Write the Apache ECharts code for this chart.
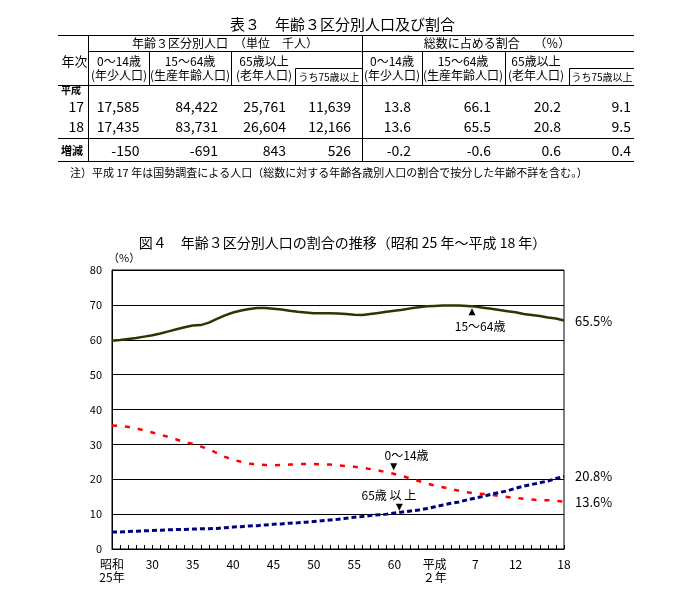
<!DOCTYPE html>
<html><head><meta charset="utf-8">
<script src="https://cdn.jsdelivr.net/npm/echarts@6/dist/echarts.min.js"></script>
<style>html,body{margin:0;padding:0;background:#fff}#c{width:685px;height:599px}</style>
</head><body><div id="c"></div>
<script>
// ---------- chart data ----------
const years = [1950,1951,1952,1953,1954,1955,1956,1957,1958,1959,1960,1961,1962,1963,1964,1965,1966,1967,1968,1969,1970,1971,1972,1973,1974,1975,1976,1977,1978,1979,1980,1981,1982,1983,1984,1985,1986,1987,1988,1989,1990,1991,1992,1993,1994,1995,1996,1997,1998,1999,2000,2001,2002,2003,2004,2005,2006];
const share0to14 = [35.4,35.3,35.0,34.6,34.0,33.4,32.8,32.1,31.4,30.6,30.2,29.4,28.6,27.5,26.4,25.6,25.0,24.5,24.2,24.1,24.0,24.1,24.2,24.3,24.4,24.4,24.3,24.2,24.0,23.8,23.6,23.3,22.9,22.5,22.0,21.5,20.9,20.2,19.5,18.8,18.2,17.7,17.2,16.7,16.3,15.9,15.8,15.5,15.2,14.9,14.6,14.4,14.2,14.0,14.0,13.8,13.6];
const share15to64 = [59.7,59.9,60.2,60.5,60.9,61.3,61.8,62.4,63.0,63.6,64.1,64.2,64.9,66.0,67.0,67.8,68.4,68.8,69.1,69.1,68.9,68.7,68.3,68.0,67.8,67.6,67.6,67.6,67.5,67.4,67.2,67.1,67.4,67.7,68.0,68.3,68.6,69.0,69.3,69.6,69.7,69.8,69.8,69.8,69.7,69.5,69.2,68.9,68.5,68.2,67.9,67.4,67.1,66.8,66.4,66.1,65.5];
const share65over = [4.9,4.9,5.0,5.1,5.2,5.3,5.4,5.5,5.6,5.6,5.7,5.8,5.8,5.9,6.1,6.3,6.4,6.6,6.7,6.9,7.1,7.2,7.4,7.5,7.7,7.9,8.1,8.3,8.5,8.8,9.1,9.3,9.6,9.8,10.0,10.3,10.6,10.9,11.2,11.6,12.1,12.6,13.1,13.5,14.1,14.6,15.1,15.7,16.2,16.7,17.4,18.0,18.5,19.0,19.5,20.2,20.8];
const xLabelYears = [1950,1955,1960,1965,1970,1975,1980,1985,1990,1995,2000,2006];
const xLabelTexts = ['昭和\n25年','30','35','40','45','50','55','60','平成\n２年','7','12','18'];
const yTicks = [0,10,20,30,40,50,60,70,80];

// ---------- table data ----------
const tableRowYears = ['17','18'];
const popYoung = [17585,17435];
const popWork = [84422,83731];
const popOld = [25761,26604];
const popOld75 = [11639,12166];
const pctYoung = [13.8,13.6];
const pctWork = [66.1,65.5];
const pctOld = [20.2,20.8];
const pctOld75 = [9.1,9.5];
const popDiff = [-150,-691,843,526];
const pctDiff = [-0.2,-0.6,0.6,0.4];

const FF = '"Noto Sans CJK JP","Noto Sans CJK SC",sans-serif';
const g = [];
function ln(x1,y1,x2,y2){g.push({type:'line',silent:true,shape:{x1,y1,x2,y2},style:{stroke:'#000',lineWidth:1}});}
function tx(x,y,t,size,align,weight){g.push({type:'text',silent:true,x,y,style:{text:t,fill:'#000',font:(weight||'normal')+' '+size+'px '+FF,textAlign:align||'center',textVerticalAlign:'middle'}});}

// table frame
const L=58,R=634,C0=88.5,CS=362.5;
[35.5,85.5,138.5,161.5].forEach(y=>ln(L,y,R,y));
ln(C0,51.5,R,51.5);
ln(C0,35.5,C0,161.5); ln(CS,35.5,CS,161.5);
[149.5,231.5,422.5,505.5].forEach(x=>ln(x,51.5,x,85.5));
ln(295.5,68.5,295.5,85.5); ln(295.5,68.5,CS,68.5);
ln(569.5,68.5,569.5,85.5); ln(569.5,68.5,R,68.5);

// headers
tx(225,43,'年齢３区分別人口　（単位　千人）',12);
tx(497,43,'総数に占める割合　 （％）',12);
tx(74.5,61,'年次',13);
const hdrCenters=[119,190,264,392,463,536];
const hdr1=['0～14歳','15～64歳','65歳以上','0～14歳','15～64歳','65歳以上'];
const hdr2=['(年少人口)','(生産年齢人口)','(老年人口)','(年少人口)','(生産年齢人口)','(老年人口)'];
hdrCenters.forEach((x,i)=>{tx(x,61,hdr1[i],12);tx(x,75,hdr2[i],12);});
tx(329,77,'うち75歳以上',10); tx(602,77,'うち75歳以上',10);

// body
tx(61,90,'平成',10,'left','bold');
const rEdges=[139.5,218,286,351,411,491,561,631];
const rowYs=[107,126.5];
const fmtN=n=>n.toLocaleString('en-US');
tableRowYears.forEach((yr,i)=>{
  const y=rowYs[i];
  tx(84,y,yr,14,'right');
  const vals=[fmtN(popYoung[i]),fmtN(popWork[i]),fmtN(popOld[i]),fmtN(popOld75[i]),pctYoung[i].toFixed(1),pctWork[i].toFixed(1),pctOld[i].toFixed(1),pctOld75[i].toFixed(1)];
  vals.forEach((v,j)=>tx(rEdges[j],y,v,14,'right'));
});
tx(61,151,'増減',11,'left','bold');
const diffs=popDiff.map(v=>String(v)).concat(pctDiff.map(v=>v.toFixed(1)));
diffs.forEach((v,j)=>tx(rEdges[j],151,v,14,'right'));
tx(70,173,'注）平成 17 年は国勢調査による人口（総数に対する年齢各歳別人口の割合で按分した年齢不詳を含む。）',11,'left');

const labelMap={}; xLabelYears.forEach((y,i)=>labelMap[y]=xLabelTexts[i]);
const pairs=arr=>years.map((y,i)=>[y,arr[i]]);
const endLbl={show:true,distance:11,fontSize:13,color:'#000',fontFamily:FF,formatter:p=>p.value[1].toFixed(1)+'%'};
const tri=(c,rot)=>({coord:c,symbol:'triangle',symbolSize:[7,7],symbolRotate:rot||0,itemStyle:{color:'#000'},label:{show:false}});
const note=(c,t)=>({coord:c,symbol:'circle',symbolSize:0,itemStyle:{color:'rgba(0,0,0,0)'},label:{show:true,position:'inside',formatter:t,color:'#000',fontSize:12,fontFamily:FF}});

const chart=echarts.init(document.getElementById('c'),null,{renderer:'canvas'});
chart.setOption({
  animation:false,
  backgroundColor:'#fff',
  title:[
    {text:'表３　年齢３区分別人口及び割合',left:'center',top:12,textStyle:{fontSize:15,fontWeight:'normal',color:'#000',fontFamily:FF}},
    {text:'図４　年齢３区分別人口の割合の推移（昭和 25 年～平成 18 年）',left:'center',top:231,textStyle:{fontSize:14,fontWeight:'normal',color:'#000',fontFamily:FF}}
  ],
  graphic:g,
  grid:{left:112,right:121,top:270,bottom:50,show:true,borderColor:'#000',borderWidth:1,containLabel:false,outerBoundsMode:'none'},
  xAxis:{type:'value',min:years[0],max:years[years.length-1],interval:1,
    axisLine:{show:true,lineStyle:{color:'#000',width:1}},
    axisTick:{show:true,inside:true,length:4,lineStyle:{color:'#000'}},
    splitLine:{show:false},
    axisLabel:{margin:9,fontSize:12,lineHeight:13,color:'#000',fontFamily:FF,formatter:v=>labelMap[v]||''}},
  yAxis:{type:'value',min:yTicks[0],max:yTicks[yTicks.length-1],interval:10,
    name:'（%）',nameLocation:'end',nameGap:7,nameTextStyle:{fontSize:11,color:'#000',align:'left',fontFamily:FF,padding:[0,0,0,-4]},
    axisLine:{show:true,lineStyle:{color:'#000',width:1}},
    axisTick:{show:false},
    splitLine:{show:true,lineStyle:{color:'#000',width:1}},
    axisLabel:{margin:10,fontSize:11,color:'#000',fontFamily:FF}},
  series:[
    {name:'15～64歳',type:'line',data:pairs(share15to64),showSymbol:false,lineStyle:{color:'#333300',width:2.5},
      endLabel:endLbl,
      markPoint:{silent:true,data:[tri([1994.6,68.0]),note([1995.6,63.7],'15～64歳')]}},
    {name:'0～14歳',type:'line',data:pairs(share0to14),showSymbol:false,lineStyle:{color:'#ff0000',width:2.5,type:[5,8]},
      endLabel:endLbl,
      markPoint:{silent:true,data:[tri([1984.9,23.6],180),note([1986.5,26.7],'0～14歳')]}},
    {name:'65歳以上',type:'line',data:pairs(share65over),showSymbol:false,lineStyle:{color:'#000080',width:3,type:[5,3]},
      endLabel:endLbl,
      markPoint:{silent:true,data:[tri([1985.6,12.0],180),note([1984.3,15.3],'65歳 以 上')]}}
  ]
});
</script></body></html>
